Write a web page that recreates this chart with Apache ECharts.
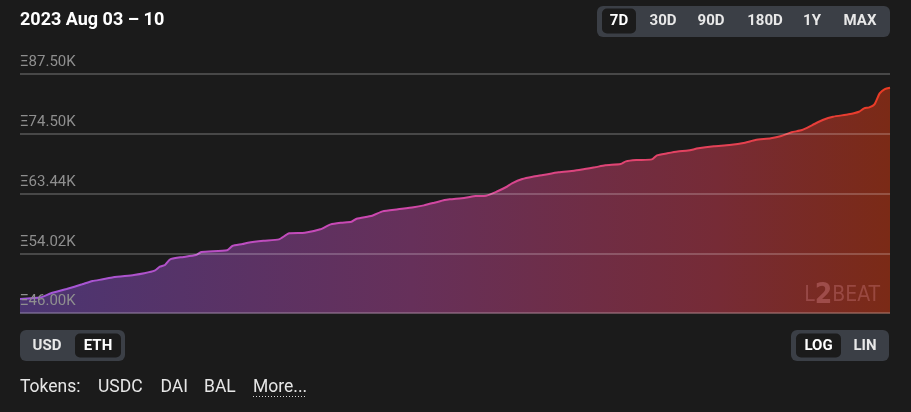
<!DOCTYPE html>
<html>
<head>
<meta charset="utf-8">
<script src="https://cdn.jsdelivr.net/npm/echarts@6/dist/echarts.min.js"></script>
<style>
  html, body { margin: 0; padding: 0; background: #1b1b1b; }
  #chart { width: 911px; height: 412px; }
</style>
</head>
<body>
<div id="chart"></div>
<script>
// Hours since 2023-08-03 00:00 (UTC)
const hours = [0,4,6,9,12,14,16,18,22,24,26,27,28,29,31,34,35,40,41,43,44,47,50,52,55,58,60,62,64,65,68,70,73,76,78,80,82,83,86,88,90,92,94,95,97,99,101,104,107,109,111,113,116,117,119,122,123,125,127,129,131,134,137,140,142,145,147,149,151,153,155,157,160,162,163,164,165,166,167,168];
// Value locked, thousands of ETH
const valuesK = [47.82,48.04,48.56,49.12,49.74,50.18,50.41,50.68,51.00,51.23,51.59,52.14,52.38,53.19,53.47,53.80,54.24,54.49,55.12,55.41,55.61,55.90,56.11,57.02,57.11,57.64,58.41,58.67,58.82,59.30,59.78,60.48,60.81,61.14,61.46,61.89,62.34,62.46,62.73,63.01,63.07,63.74,64.60,65.19,65.95,66.36,66.66,67.14,67.43,67.74,68.05,68.42,68.65,69.15,69.39,69.52,70.27,70.65,70.99,71.18,71.60,71.99,72.24,72.69,73.21,73.55,74.00,74.74,75.20,76.21,77.24,77.93,78.43,78.98,79.70,79.91,80.56,82.97,83.93,84.22];
// Y tick values (thousands of ETH), log scale
const tickValues = [46.00, 54.02, 63.44, 74.50, 87.50];
const tickLabels = ['\u039E46.00K', '\u039E54.02K', '\u039E63.44K', '\u039E74.50K', '\u039E87.50K'];
const rangeButtons = ['7D','30D','90D','180D','1Y','MAX'];
const tokens = ['USDC','DAI','BAL'];
const title = '2023 Aug 03 \u2013 10';

const start = Date.UTC(2023, 7, 3, 0, 0, 0);
const HOUR = 3600 * 1000;
const seriesData = hours.map((h, i) => [start + h * HOUR, Math.log(valuesK[i])]);

const chart = echarts.init(document.getElementById('chart'), null, { renderer: 'canvas' });

const FONT = 'Roboto';
const btnBg = '#3b3f46';
const selBg = '#1b1b1b';

const rangeX = [619, 663, 711, 765, 812, 860];

const graphics = [
  { type: 'text', left: 20, top: 11, style: { text: title, fill: '#ffffff', font: 'bold 18px ' + FONT } },
  { type: 'rect', shape: { x: 597, y: 6, width: 293, height: 31, r: 6 }, style: { fill: btnBg } },
  { type: 'rect', shape: { x: 602, y: 8.5, width: 34, height: 25, r: 5 }, style: { fill: selBg } },
  { type: 'rect', shape: { x: 20, y: 330, width: 105, height: 31, r: 6 }, style: { fill: btnBg } },
  { type: 'rect', shape: { x: 75, y: 333.5, width: 46, height: 24, r: 5 }, style: { fill: selBg } },
  { type: 'text', style: { x: 47, y: 346, text: 'USD', fill: '#e8e8e8', font: 'bold 15px ' + FONT, align: 'center', verticalAlign: 'middle' } },
  { type: 'text', style: { x: 98, y: 346, text: 'ETH', fill: '#ffffff', font: 'bold 15px ' + FONT, align: 'center', verticalAlign: 'middle' } },
  { type: 'rect', shape: { x: 791, y: 330, width: 98, height: 31, r: 6 }, style: { fill: btnBg } },
  { type: 'rect', shape: { x: 796, y: 333.5, width: 45, height: 24, r: 5 }, style: { fill: selBg } },
  { type: 'text', style: { x: 818.5, y: 346, text: 'LOG', fill: '#ffffff', font: 'bold 15px ' + FONT, align: 'center', verticalAlign: 'middle' } },
  { type: 'text', style: { x: 865, y: 346, text: 'LIN', fill: '#e8e8e8', font: 'bold 15px ' + FONT, align: 'center', verticalAlign: 'middle' } },
  { type: 'text', style: { x: 20, y: 388, text: 'Tokens:', fill: '#e6e6e6', font: '17.5px ' + FONT, verticalAlign: 'middle' } },
  { type: 'text', style: { x: 253, y: 388, text: 'More...', fill: '#e6e6e6', font: '17.5px ' + FONT, verticalAlign: 'middle' } },
  { type: 'line', shape: { x1: 253, y1: 396.5, x2: 306, y2: 396.5 }, style: { stroke: '#d8d8d8', lineWidth: 1, lineDash: [1, 2] } },
  { type: 'text', z: 100, style: { x: 880, y: 296, text: '{a|L}{b|2}{a|BEAT}', align: 'right', verticalAlign: 'middle',
      rich: {
        a: { fill: 'rgba(235,150,160,0.28)', font: '21px "DejaVu Sans Condensed", "DejaVu Sans"' },
        b: { fill: 'rgba(235,150,160,0.32)', font: 'bold 28px "DejaVu Sans Condensed", "DejaVu Sans"' }
      } } }
];
rangeButtons.forEach((t, i) => {
  graphics.push({ type: 'text', style: { x: rangeX[i], y: 21.5, text: t, fill: i === 0 ? '#ffffff' : '#e8e8e8', font: 'bold 15px ' + FONT, align: 'center', verticalAlign: 'middle' } });
});
const tokenX = [98, 160.5, 204];
tokens.forEach((t, i) => {
  graphics.push({ type: 'text', style: { x: tokenX[i], y: 388, text: t, fill: '#e6e6e6', font: '17.5px ' + FONT, verticalAlign: 'middle' } });
});

const option = {
  backgroundColor: '#1b1b1b',
  animation: false,
  grid: { left: 20, right: 21, top: 73.5, bottom: 98.5 },
  xAxis: {
    type: 'time',
    min: start,
    max: start + 168 * HOUR,
    show: false
  },
  yAxis: {
    type: 'value',
    min: Math.log(tickValues[0]),
    max: Math.log(tickValues[tickValues.length - 1]),
    show: false,
    splitLine: { show: false }
  },
  graphic: graphics,
  series: [{
    type: 'line',
    data: seriesData,
    showSymbol: false,
    smooth: 0.2,
    lineStyle: {
      width: 2,
      color: new echarts.graphic.LinearGradient(0, 0, 1, 0, [
        { offset: 0, color: '#9f58da' },
        { offset: 0.4, color: '#cc48b2' },
        { offset: 0.7, color: '#e24470' },
        { offset: 1, color: '#ea3b22' }
      ])
    },
    areaStyle: {
      opacity: 1,
      color: new echarts.graphic.LinearGradient(0, 0, 1, 0, [
        { offset: 0, color: '#4b3572' },
        { offset: 0.45, color: '#66305a' },
        { offset: 0.8, color: '#762b36' },
        { offset: 1, color: '#7b2a16' }
      ])
    },
    markLine: {
      silent: true,
      symbol: 'none',
      animation: false,
      lineStyle: { color: 'rgba(255,255,255,0.2)', width: 2, type: 'solid' },
      label: {
        show: true,
        position: 'insideStartTop',
        distance: [0, 4],
        color: '#8f8f8f',
        fontFamily: FONT,
        fontSize: 15,
        formatter: '{b}'
      },
      emphasis: { disabled: true },
      data: tickValues.map((t, i) => ({ yAxis: Math.log(t), name: tickLabels[i] }))
    }
  }]
};
chart.setOption(option);
</script>
</body>
</html>
